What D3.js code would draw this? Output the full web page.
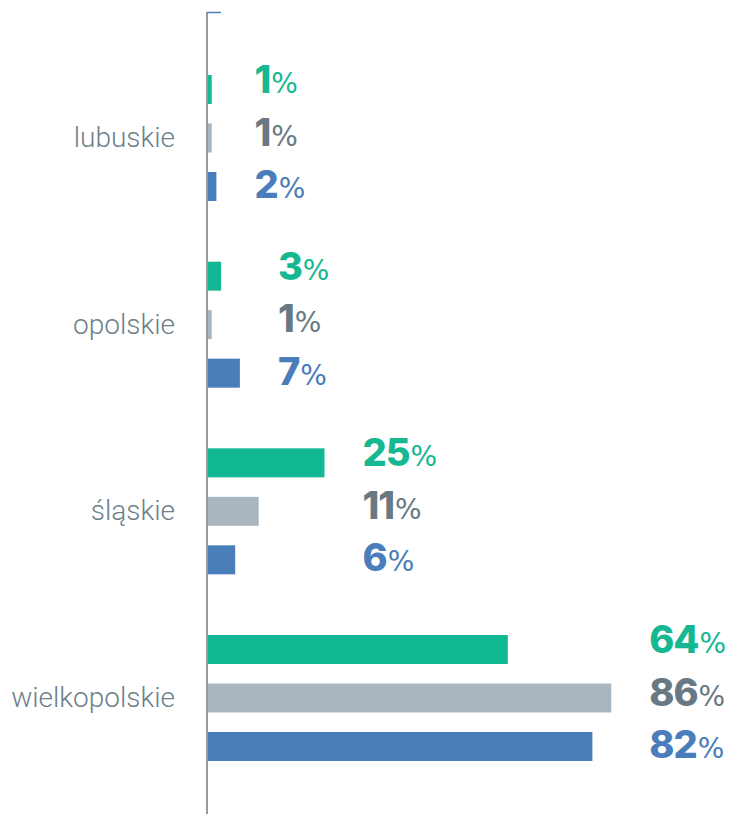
<!DOCTYPE html>
<html>
<head>
<meta charset="utf-8">
<script src="https://cdn.jsdelivr.net/npm/d3@7"></script>
<style>
  html, body { margin: 0; padding: 0; background: #fff; }
  svg { display: block; }
</style>
</head>
<body>
<div id="chart"></div>
<script>
var categories = ["lubuskie", "opolskie", "śląskie", "wielkopolskie"];
var seriesNames = ["s1", "s2", "s3"];
var s1Values = [1, 3, 25, 64];
var s2Values = [1, 1, 11, 86];
var s3Values = [2, 7, 6, 82];

var barColors = ["#11b893", "#a9b6bf", "#4a7ebb"];
var labelColors = ["#16b891", "#687983", "#4a7dba"];

var width = 734, height = 814;

var data = categories.map(function (c, i) {
    return {
        cat: c,
        vals: [s1Values[i], s2Values[i], s3Values[i]]
    };
});

var svg = d3.select("#chart")
    .append("svg")
    .attr("width", width)
    .attr("height", height);

var x = d3.scaleLinear().domain([0, 100]).range([207, 677]);

var y0 = d3.scaleBand()
    .domain(categories)
    .range([75, 761])
    .paddingInner(0.325)
    .paddingOuter(0);

var y1 = d3.scaleBand()
    .domain(seriesNames)
    .range([0, y0.bandwidth()])
    .paddingInner(0.402)
    .paddingOuter(0);

// label rows are spaced slightly wider than the bars
var yLab = d3.scalePoint()
    .domain(seriesNames)
    .range([4, 109]);

// category labels via axis
var yAxis = d3.axisLeft(y0).tickSize(0).tickPadding(32);
svg.append("g")
    .attr("transform", "translate(" + x(0) + ",0)")
    .call(yAxis)
    .call(function (g) { g.select(".domain").remove(); })
    .selectAll("text")
    .attr("font-family", "Roboto, 'Open Sans', sans-serif")
    .attr("font-weight", 300)
    .attr("font-size", 28)
    .attr("fill", "#6c7f8b");

var groups = svg.selectAll(".grp")
    .data(data).enter()
    .append("g")
    .attr("class", "grp")
    .attr("transform", function (d) { return "translate(0," + y0(d.cat) + ")"; });

groups.selectAll("rect")
    .data(function (d) { return d.vals; })
    .enter().append("rect")
    .attr("x", x(0))
    .attr("y", function (d, i) { return y1(seriesNames[i]); })
    .attr("height", y1.bandwidth())
    .attr("width", function (d) { return x(d) - x(0); })
    .attr("fill", function (d, i) { return barColors[i]; });

var labels = groups.selectAll("text.val")
    .data(function (d) {
        var mx = d3.max(d.vals);
        return d.vals.map(function (v) { return { v: v, mx: mx }; });
    })
    .enter().append("text")
    .attr("class", "val")
    .attr("x", function (d) { return x(d.mx) + 38; })
    .attr("y", function (d, i) { return yLab(seriesNames[i]) + 14; })
    .attr("fill", function (d, i) { return labelColors[i]; });

labels.append("tspan")
    .attr("font-family", "Inter, Lato, sans-serif")
    .attr("font-weight", 800)
    .attr("font-size", 38)
    .attr("letter-spacing", -1)
    .text(function (d) { return d.v; });

labels.append("tspan")
    .attr("font-family", "'DejaVu Sans', sans-serif")
    .attr("font-weight", 400)
    .attr("font-size", 28)
    .attr("dx", 1)
    .text("%");

// vertical axis line
svg.append("line")
    .attr("x1", x(0)).attr("x2", x(0))
    .attr("y1", 12).attr("y2", height)
    .attr("stroke", "#999999")
    .attr("stroke-width", 2);

// small top tick
svg.append("line")
    .attr("x1", x(0)).attr("x2", x(0) + 14)
    .attr("y1", 12.5).attr("y2", 12.5)
    .attr("stroke", "#4a7ebb")
    .attr("stroke-width", 1.5);
</script>
</body>
</html>
